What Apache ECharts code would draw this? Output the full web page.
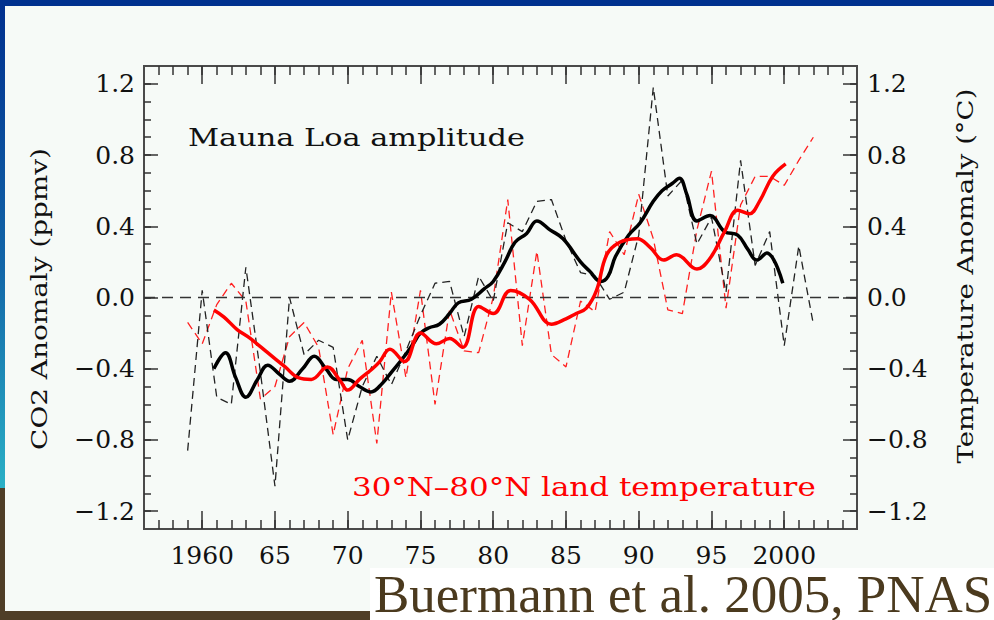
<!DOCTYPE html>
<html>
<head>
<meta charset="utf-8">
<script src="https://cdn.jsdelivr.net/npm/echarts@6/dist/echarts.min.js"></script>
<style>
html,body{margin:0;padding:0;background:#f6faf7;}
#main{width:994px;height:620px;}
</style>
</head>
<body>
<div id="main"></div>
<script>
// ---------------- DATA ----------------
const annualYears = [1959,1960,1961,1962,1963,1964,1965,1966,1967,1968,1969,1970,1971,1972,1973,1974,1975,1976,1977,1978,1979,1980,1981,1982,1983,1984,1985,1986,1987,1988,1989,1990,1991,1992,1993,1994,1995,1996,1997,1998,1999,2000,2001,2002];
// Mauna Loa CO2 seasonal amplitude anomaly (ppmv), annual (thin black dashed)
const co2Annual = [-0.86,0.04,-0.56,-0.60,0.17,-0.42,-1.06,0.00,-0.32,-0.24,-0.28,-0.80,-0.50,-0.33,-0.49,-0.30,-0.10,0.08,0.09,-0.22,0.12,-0.02,0.42,0.37,0.54,0.55,0.32,0.14,0.12,-0.01,0.03,0.35,1.18,0.57,0.66,0.30,0.45,0.03,0.77,0.18,0.37,-0.27,0.29,-0.15];
// 30N-80N land temperature anomaly (degC), annual (thin red dashed)
const tempAnnual = [-0.14,-0.26,-0.04,0.08,-0.02,-0.57,-0.50,-0.22,-0.14,-0.28,-0.77,-0.40,-0.24,-0.82,0.03,-0.45,0.04,-0.60,-0.07,-0.30,-0.31,0.00,0.55,-0.27,0.26,-0.32,-0.39,-0.02,-0.08,0.37,0.24,0.58,0.33,-0.07,-0.09,0.38,0.71,-0.06,0.52,0.68,0.68,0.63,0.77,0.90];

// smoothed CO2 amplitude (thick black)
const co2SmoothYears = [1960.8,1961.6,1962.3,1963.0,1963.8,1964.5,1965.3,1966.0,1966.9,1967.7,1968.5,1969.2,1970.0,1970.8,1971.6,1972.4,1973.0,1973.8,1974.5,1975.0,1975.6,1976.3,1977.0,1977.6,1978.5,1979.4,1980.0,1980.8,1981.5,1982.3,1983.0,1983.9,1984.8,1986.0,1986.6,1987.4,1987.9,1988.4,1989.3,1990.1,1991.0,1991.6,1992.3,1992.8,1993.3,1994.0,1994.9,1995.9,1996.8,1997.5,1998.1,1998.8,1999.9];
const co2SmoothVals  = [-0.40,-0.31,-0.45,-0.56,-0.46,-0.38,-0.43,-0.47,-0.40,-0.33,-0.40,-0.46,-0.46,-0.50,-0.53,-0.48,-0.42,-0.34,-0.26,-0.20,-0.17,-0.15,-0.09,-0.03,-0.01,0.05,0.09,0.20,0.31,0.36,0.43,0.38,0.33,0.20,0.15,0.09,0.12,0.23,0.35,0.42,0.54,0.60,0.64,0.67,0.58,0.43,0.46,0.37,0.35,0.27,0.21,0.25,0.08];

// smoothed temperature (thick red)
const tempSmoothYears = [1960.8,1961.5,1962.4,1963.3,1964.5,1965.7,1966.6,1967.5,1968.6,1969.5,1970.0,1970.8,1971.7,1972.2,1972.9,1973.9,1975.0,1976.1,1977.0,1977.9,1979.0,1980.0,1981.2,1982.5,1984.0,1985.0,1985.7,1986.4,1987.1,1987.8,1988.7,1989.9,1990.8,1991.7,1992.6,1994.0,1994.9,1995.9,1996.8,1997.6,1998.3,1999.2,2000.1];
const tempSmoothVals  = [-0.07,-0.11,-0.18,-0.23,-0.31,-0.39,-0.45,-0.46,-0.39,-0.47,-0.52,-0.46,-0.40,-0.36,-0.29,-0.36,-0.20,-0.26,-0.23,-0.28,-0.05,-0.09,0.04,-0.01,-0.15,-0.12,-0.09,-0.06,0.04,0.24,0.31,0.33,0.28,0.21,0.24,0.16,0.22,0.37,0.49,0.47,0.54,0.68,0.75];

// axis ticks
const xMajorTicks = [1960,1965,1970,1975,1980,1985,1990,1995,2000];
const xMinorTicks = [1957,1958,1959,1960,1961,1962,1963,1964,1965,1966,1967,1968,1969,1970,1971,1972,1973,1974,1975,1976,1977,1978,1979,1980,1981,1982,1983,1984,1985,1986,1987,1988,1989,1990,1991,1992,1993,1994,1995,1996,1997,1998,1999,2000,2001,2002,2003,2004];
const yMajorTicks = [-1.2,-0.8,-0.4,0.0,0.4,0.8,1.2];
const yMinorTicks = [-1.2,-1.1,-1.0,-0.9,-0.8,-0.7,-0.6,-0.5,-0.4,-0.3,-0.2,-0.1,0.0,0.1,0.2,0.3,0.4,0.5,0.6,0.7,0.8,0.9,1.0,1.1,1.2];

const titleText = 'Mauna Loa amplitude';
const tempText = '30°N\u201380°N land temperature';
const leftName = 'CO2 Anomaly (ppmv)';
const rightName = 'Temperature Anomaly (°C)';
const citeText = 'Buermann et al. 2005, PNAS';

// ---------------- CHART ----------------
const SERIF = '"DejaVu Serif", serif';
const measure = (txt, font) => {
  const c = document.createElement('canvas').getContext('2d');
  c.font = font; return c.measureText(txt).width;
};
const fitScale = (txt, size, target) => target / measure(txt, size + 'px "DejaVu Serif"');

const pair = (xs, ys) => xs.map((x, i) => [x, ys[i]]);

const X_MIN = 1956, X_MAX = 2005, Y_MIN = -1.3, Y_MAX = 1.3;
const frameColor = '#4a4a4a';

function xAxisDef(position, ticks, len, labels) {
  return {
    type: 'value', position, min: X_MIN, max: X_MAX, scale: true,
    axisLine: { show: true, onZero: false, lineStyle: { color: frameColor, width: 2 } },
    axisTick: { show: true, inside: true, length: len, customValues: ticks, lineStyle: { color: '#333', width: 1.5 } },
    axisLabel: labels ? {
      show: true, customValues: ticks, margin: 14, color: '#111',
      fontFamily: SERIF, fontSize: 25,
      formatter: v => (v === 1960 || v === 2000) ? String(v) : String(v % 100)
    } : { show: false },
    splitLine: { show: false }, minorTick: { show: false }
  };
}
function yAxisDef(position, ticks, len, labels) {
  return {
    type: 'value', position, min: Y_MIN, max: Y_MAX, scale: true,
    axisLine: { show: true, onZero: false, lineStyle: { color: frameColor, width: 2 } },
    axisTick: { show: true, inside: true, length: len, customValues: ticks, lineStyle: { color: '#333', width: 1.5 } },
    axisLabel: labels ? {
      show: true, customValues: ticks, margin: position === 'left' ? 9 : 10, color: '#111',
      fontFamily: SERIF, fontSize: 25,
      formatter: v => (v < -1e-9 ? '\u2212' : '') + Math.abs(v).toFixed(1)
    } : { show: false },
    splitLine: { show: false }, minorTick: { show: false }
  };
}

const chart = echarts.init(document.getElementById('main'), null, { renderer: 'svg' });

const graphic = [
  // slide decoration
  { type: 'rect', z: -100, shape: { x: 0, y: 0, width: 994, height: 620 }, style: { fill: '#4f3e27' } },
  { type: 'rect', z: -99, shape: { x: 0, y: 0, width: 6, height: 488 },
    style: { fill: new echarts.graphic.LinearGradient(0, 0, 0, 1, [
      { offset: 0, color: '#002f8e' }, { offset: 0.55, color: '#1266a8' }, { offset: 1, color: '#2ab0c6' }]) } },
  { type: 'rect', z: -98, shape: { x: 0, y: 0, width: 994, height: 6 }, style: { fill: '#00318f' } },
  { type: 'rect', z: -97, shape: { x: 5, y: 6, width: 989, height: 605 }, style: { fill: '#f6faf7' } },
  { type: 'rect', z: -96, shape: { x: 370, y: 568, width: 624, height: 52 }, style: { fill: '#ffffff' } },
  // texts
  { type: 'text', z: 100, x: 188, y: 137, scaleX: fitScale(titleText, 25, 337),
    style: { text: titleText, font: '25px "DejaVu Serif"', fill: '#111', align: 'left', verticalAlign: 'middle' } },
  { type: 'text', z: 100, x: 352, y: 487, scaleX: fitScale(tempText, 26, 464),
    style: { text: tempText, font: '26px "DejaVu Serif"', fill: '#ff0000', align: 'left', verticalAlign: 'middle' } },
  { type: 'text', z: 100, x: 39, y: 299, rotation: Math.PI / 2, scaleX: fitScale(leftName, 23, 302),
    style: { text: leftName, font: '23px "DejaVu Serif"', fill: '#111', align: 'center', verticalAlign: 'middle' } },
  { type: 'text', z: 100, x: 965, y: 276, rotation: Math.PI / 2, scaleX: fitScale(rightName, 23, 375),
    style: { text: rightName, font: '23px "DejaVu Serif"', fill: '#111', align: 'center', verticalAlign: 'middle' } },
  { type: 'text', z: 100, x: 374, y: 594,
    style: { text: citeText, font: '53px "Liberation Serif"', lineHeight: 34, fill: '#4b3a1e', align: 'left', verticalAlign: 'middle' } }
];

const option = {
  animation: false,
  backgroundColor: '#f6faf7',
  graphic,
  grid: { left: 144, right: 137, top: 66, bottom: 91, containLabel: false, outerBoundsMode: 'none' },
  xAxis: [
    xAxisDef('bottom', xMajorTicks, 18, true),
    xAxisDef('bottom', xMinorTicks, 9, false),
    xAxisDef('top', xMajorTicks, 18, false),
    xAxisDef('top', xMinorTicks, 9, false)
  ],
  yAxis: [
    yAxisDef('left', yMajorTicks, 14, true),
    yAxisDef('left', yMinorTicks, 7, false),
    yAxisDef('right', yMajorTicks, 14, true),
    yAxisDef('right', yMinorTicks, 7, false)
  ],
  series: [
    { name: 'Temperature annual', type: 'line', xAxisIndex: 0, yAxisIndex: 2, z: 3,
      data: pair(annualYears, tempAnnual), showSymbol: false, symbol: 'none',
      lineStyle: { color: '#ff2020', width: 1.3, type: [8, 5] } },
    { name: 'CO2 annual', type: 'line', xAxisIndex: 0, yAxisIndex: 0, z: 4,
      data: pair(annualYears, co2Annual), showSymbol: false, symbol: 'none',
      lineStyle: { color: '#222', width: 1.3, type: [8, 5] },
      markLine: { silent: true, symbol: 'none', label: { show: false },
        lineStyle: { color: '#333', width: 1.3, type: [11, 7] }, data: [{ yAxis: 0 }] } },
    { name: 'CO2 smoothed', type: 'line', xAxisIndex: 0, yAxisIndex: 0, z: 5, smooth: 0.4,
      data: pair(co2SmoothYears, co2SmoothVals), showSymbol: false, symbol: 'none',
      lineStyle: { color: '#000', width: 3.5 } },
    { name: 'Temperature smoothed', type: 'line', xAxisIndex: 0, yAxisIndex: 2, z: 6, smooth: 0.4,
      data: pair(tempSmoothYears, tempSmoothVals), showSymbol: false, symbol: 'none',
      lineStyle: { color: '#ff0000', width: 3.5 } }
  ]
};
chart.setOption(option);
</script>
</body>
</html>
